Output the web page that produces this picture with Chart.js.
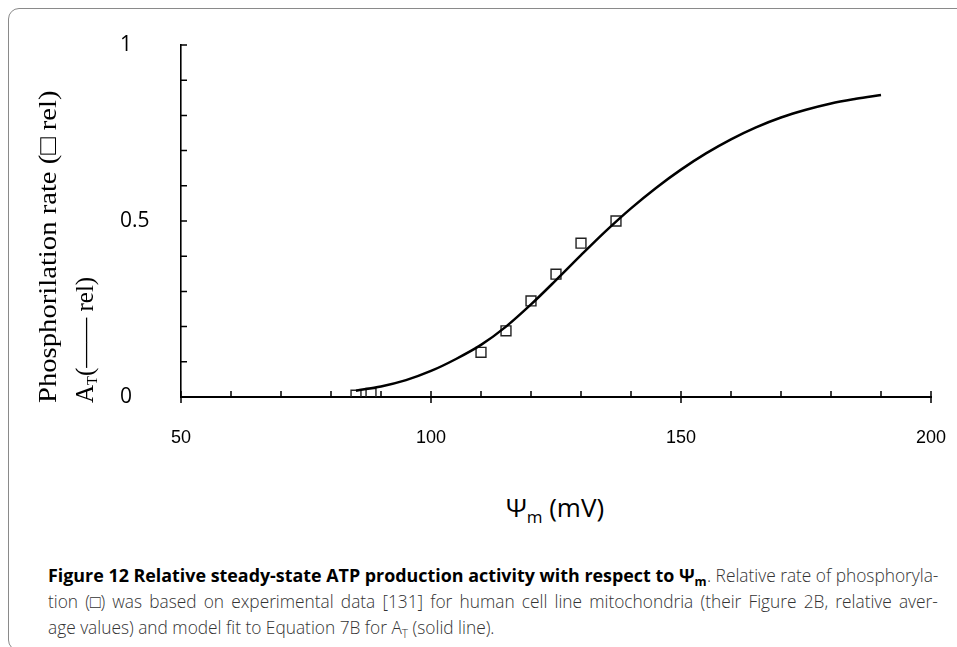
<!DOCTYPE html>
<html>
<head>
<meta charset="utf-8">
<script src="https://cdn.jsdelivr.net/npm/chart.js@4"></script>
<style>
  html, body { margin: 0; padding: 0; background: #fff; }
  body { width: 957px; height: 647px; position: relative; overflow: hidden; }
  #frame { position: absolute; left: 8px; top: 8px; width: 1000px; height: 643px;
           border: 1.5px solid #8a8a8a; border-radius: 11px; box-sizing: border-box; }
  #wrap { position: absolute; left: 0; top: 0; width: 957px; height: 470px; }
  #ytitle { position: absolute; left: 29px; top: 403px; width: 420px; transform-origin: 0 0;
            transform: rotate(-90deg); font-family: "Liberation Serif", "Times New Roman", serif;
            font-size: 26px; line-height: 37px; color: #000; white-space: nowrap; }
  #ytitle .ln { display: block; height: 37px; }
  #ytitle .in { display: inline-block; transform-origin: 0 50%; }
  #ytitle sub { font-size: 15px; vertical-align: -4px; }
  #xtitle { position: absolute; left: 0; width: 1110px; top: 489px; text-align: center;
            font-family: "Open Sans", sans-serif; font-size: 26px; color: #000; white-space: nowrap; }
  #xtitle sub { font-size: 17px; vertical-align: -6px; }
  .cap { position: absolute; white-space: nowrap; transform-origin: 0 0;
         font-family: "Open Sans", sans-serif; font-size: 17.5px; color: #333; font-weight: 300; }
  .cap.b { font-weight: 700; color: #000; }
  .cap sub { font-size: 12px; vertical-align: -4px; }
</style>
</head>
<body>
<div id="frame"></div>
<div id="wrap"><canvas id="c" width="957" height="470"></canvas></div>
<div id="ytitle"><span class="ln"><span class="in" id="yt1">Phosphorilation rate (□ rel)</span></span><span class="ln"><span class="in" id="yt2">A<sub>T</sub>(—— rel)</span></span></div>
<div id="xtitle">Ψ<sub>m</sub> (mV)</div>
<div class="cap b" id="cap1a" style="left:48px;top:563px">Figure 12 Relative steady-state ATP production activity with respect to Ψ<sub>m</sub></div>
<div class="cap" id="cap1b" style="left:743px;top:563px">. Relative rate of phosphoryla-</div>
<div class="cap" id="cap2" style="left:48px;top:589px">tion (□) was based on experimental data [131] for human cell line mitochondria (their Figure 2B, relative aver-</div>
<div class="cap" id="cap3" style="left:48px;top:615px">age values) and model fit to Equation 7B for A<sub>T</sub> (solid line).</div>
<script>
// ---- data ----
const curveX = [85, 90, 95, 100, 105, 110, 115, 120, 125, 130, 135, 140, 145, 150, 155, 160, 165, 170, 175, 180, 185, 190];
const curveY = [0.018, 0.030, 0.048, 0.074, 0.108, 0.148, 0.200, 0.263, 0.332, 0.403, 0.472, 0.536, 0.594, 0.646, 0.692, 0.732, 0.766, 0.794, 0.816, 0.834, 0.847, 0.858];
const expX = [85, 88, 110, 115, 120, 125, 130, 137];
const expY = [0.005, 0.01, 0.127, 0.188, 0.273, 0.349, 0.437, 0.5];
const xMajorLabels = [50, 100, 150, 200];
const yMajorLabels = [0, 0.5, 1];

// ---- text width fit ----
function fit(id, target) {
  const el = document.getElementById(id);
  el.style.transform = 'scaleX(' + (target / el.offsetWidth) + ')';
}
fit('yt1', 313);
fit('yt2', 126);
const c3 = document.getElementById('cap3');
const sReg = 447 / c3.offsetWidth;
c3.style.transform = 'scaleX(' + sReg + ')';
const c2 = document.getElementById('cap2');
const gaps2 = (c2.textContent.match(/ /g) || []).length;
const extra = Math.max(0, (890 / sReg - c2.offsetWidth) / gaps2);
c2.style.wordSpacing = extra + 'px';
c2.style.transform = 'scaleX(' + (890 / c2.offsetWidth) + ')';
const c1b = document.getElementById('cap1b');
const w1b = c1b.offsetWidth * sReg;
c1b.style.left = (938 - w1b) + 'px';
c1b.style.transform = 'scaleX(' + sReg + ')';
fit('cap1a', 938 - w1b - 48);

// ---- tick mark plugin ----
const tickPlugin = {
  id: 'innerTicks',
  afterDraw(chart) {
    const ctx = chart.ctx;
    const xs = chart.scales.x, ys = chart.scales.y;
    const x0 = xs.getPixelForValue(xs.min);
    const yBase = ys.getPixelForValue(0);
    ctx.save();
    ctx.strokeStyle = '#000';
    ctx.lineWidth = 1.5;
    ctx.beginPath();
    for (let v = xs.min; v <= xs.max + 1e-9; v += 10) {
      const px = Math.round(xs.getPixelForValue(v));
      const major = xMajorLabels.includes(v);
      ctx.moveTo(px, yBase - 6);
      ctx.lineTo(px, yBase + (major ? 6 : 0));
    }
    for (let i = 1; i <= 10; i++) {
      const py = ys.getPixelForValue(i / 10);
      ctx.moveTo(x0, py);
      ctx.lineTo(x0 + 6, py);
    }
    ctx.stroke();
    ctx.restore();
  }
};

new Chart(document.getElementById('c'), {
  data: {
    datasets: [
      {
        type: 'line',
        data: curveX.map((x, i) => ({ x: x, y: curveY[i] })),
        borderColor: '#000',
        borderWidth: 2.5,
        pointRadius: 0,
        cubicInterpolationMode: 'monotone',
        fill: false,
        order: 0
      },
      {
        type: 'scatter',
        data: expX.map((x, i) => ({ x: x, y: expY[i] })),
        pointStyle: 'rect',
        pointRadius: 7,
        borderColor: '#222',
        borderWidth: 1.4,
        backgroundColor: 'rgba(0,0,0,0)',
        order: 1
      }
    ]
  },
  options: {
    responsive: false,
    animation: false,
    events: [],
    layout: { padding: { left: 120, right: 26, top: 45, bottom: 23 } },
    plugins: { legend: { display: false }, tooltip: { enabled: false } },
    scales: {
      x: {
        type: 'linear', min: 50, max: 200,
        grid: { display: false, drawTicks: false },
        border: { display: true, color: '#000', width: 2 },
        ticks: {
          stepSize: 10, autoSkip: false, maxRotation: 0, padding: 30,
          color: '#000',
          font: { family: '"Liberation Sans", Arial, sans-serif', size: 18 },
          callback: (v) => xMajorLabels.includes(v) ? String(v) : ''
        },
        afterFit: (s) => { s.height = 50; s.paddingLeft = 0; s.paddingRight = 0; }
      },
      y: {
        type: 'linear', min: 0, max: 1,
        grid: { display: false, drawTicks: false },
        border: { display: true, color: '#000', width: 1.6 },
        ticks: {
          stepSize: 0.1, autoSkip: false, crossAlign: 'far', padding: 0,
          color: '#000',
          font: { family: '"Open Sans", sans-serif', size: 21 },
          callback: (v) => {
            const r = Math.round(v * 10) / 10;
            return yMajorLabels.includes(r) ? String(r) : '';
          }
        },
        afterFit: (s) => { s.width = 61; s.paddingTop = 0; s.paddingBottom = 0; }
      }
    }
  },
  plugins: [tickPlugin]
});
</script>
</body>
</html>
